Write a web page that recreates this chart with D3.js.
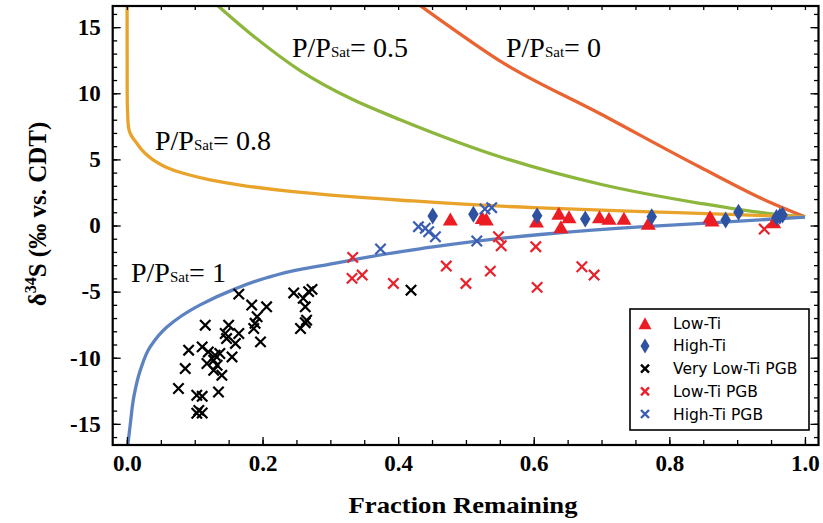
<!DOCTYPE html>
<html><head><meta charset="utf-8">
<script src="https://cdn.jsdelivr.net/npm/d3@7"></script>
<style>body{margin:0;background:#fff}</style>
</head><body>
<svg id="c" width="823" height="523"></svg>
<script>
// ---------- data ----------
const xTicksMajor = [0, 0.2, 0.4, 0.6, 0.8, 1.0];
const xTickLabels = ["0.0", "0.2", "0.4", "0.6", "0.8", "1.0"];
const yTicksMajor = [-15, -10, -5, 0, 5, 10, 15];
const yTickLabels = ["-15", "-10", "-5", "0", "5", "10", "15"];

// model curves [fraction remaining, d34S]
const curvePsat1 = [[0.0008,-16.8],[0.005,-15],[0.01,-13],[0.02,-10.9],[0.034,-9.2],[0.059,-7.67],[0.108,-6.0],[0.157,-4.85],[0.206,-3.95],[0.25,-3.37],[0.285,-3.05],[0.432,-1.76],[0.61,-0.68],[0.757,-0.11],[0.855,0.18],[1.0,0.63]];
const curvePsat08 = [[0.0002,16.8],[0.0004,10.0],[0.001,8.5],[0.0022,7.47],[0.0052,6.92],[0.0145,6.22],[0.0267,5.46],[0.039,4.95],[0.056,4.45],[0.083,3.95],[0.1226,3.45],[0.167,3.06],[0.245,2.56],[0.4,1.93],[0.6,1.35],[0.76,1.05],[0.855,0.9],[1.0,0.65]];
const curvePsat05 = [[0.13,16.8],[0.18,14.6],[0.256,11.7],[0.33,9.6],[0.403,8.0],[0.55,5.2],[0.70,3.1],[0.845,1.68],[0.944,0.92],[1.0,0.65]];
const curvePsat0 = [[0.428,16.8],[0.477,15.0],[0.55,12.45],[0.698,8.45],[0.845,4.42],[0.944,1.85],[1.0,0.65]];

const lowTi = [[0.477,0.49],[0.524,0.6],[0.53,0.5],[0.604,0.34],[0.637,0.92],[0.64,-0.09],[0.652,0.67],[0.697,0.67],[0.711,0.55],[0.733,0.55],[0.769,0.17],[0.86,0.67],[0.863,0.42],[0.954,0.29]];
const highTi = [[0.451,0.72],[0.511,0.85],[0.605,0.74],[0.676,0.5],[0.774,0.67],[0.883,0.42],[0.902,1.0],[0.958,0.6],[0.963,0.7],[0.967,0.8]];
const veryLowTiPGB = [[0.165,-5.19],[0.184,-6.02],[0.206,-6.15],[0.246,-5.1],[0.26,-5.5],[0.268,-5.0],[0.273,-4.83],[0.263,-6.15],[0.256,-7.79],[0.265,-7.16],[0.263,-7.35],[0.1155,-7.54],[0.15,-7.54],[0.192,-6.9],[0.189,-7.4],[0.187,-7.79],[0.145,-8.17],[0.165,-8.17],[0.147,-8.55],[0.197,-8.8],[0.16,-8.92],[0.111,-9.18],[0.091,-9.43],[0.12,-9.56],[0.13,-9.81],[0.137,-9.68],[0.155,-9.94],[0.128,-10.19],[0.118,-10.44],[0.133,-10.57],[0.086,-10.82],[0.128,-10.95],[0.14,-11.33],[0.076,-12.33],[0.135,-12.59],[0.103,-12.84],[0.111,-12.92],[0.106,-13.98],[0.111,-14.18],[0.103,-14.2],[0.419,-4.89]];
const lowTiPGB = [[0.333,-2.41],[0.332,-4.0],[0.347,-3.75],[0.393,-4.38],[0.471,-3.07],[0.5,-4.38],[0.536,-3.45],[0.548,-0.85],[0.552,-1.53],[0.603,-1.6],[0.605,-4.68],[0.671,-3.12],[0.689,-3.75],[0.94,-0.27]];
const highTiPGB = [[0.374,-1.78],[0.43,-0.09],[0.44,-0.21],[0.445,-0.47],[0.455,-0.85],[0.516,-1.17],[0.528,1.25],[0.538,1.35]];

const legendLabels = ["Low-Ti", "High-Ti", "Very Low-Ti PGB", "Low-Ti PGB", "High-Ti PGB"];

// ---------- drawing ----------
const svg = d3.select("#c");
const X0 = 112.7, X1 = 818.5, Y0 = 6, Y1 = 445;
const x = d3.scaleLinear().domain([-0.021, 1.02]).range([X0, X1]);
const y = d3.scaleLinear().domain([-16.6, 16.6]).range([Y1, Y0]);

const serif = "Liberation Serif, DejaVu Serif, serif";
const sans = "DejaVu Sans, sans-serif";

svg.append("defs").append("clipPath").attr("id","clip")
  .append("rect").attr("x",X0).attr("y",Y0).attr("width",X1-X0).attr("height",Y1-Y0);

const lineY = d3.line().x(d=>x(d[0])).y(d=>y(d[1])).curve(d3.curveMonotoneY);
const lineX = d3.line().x(d=>x(d[0])).y(d=>y(d[1])).curve(d3.curveMonotoneX);
const byY = a => a.slice().sort((p,q)=>p[1]-q[1]);
const gc = svg.append("g").attr("clip-path","url(#clip)");
gc.append("path").attr("d",lineX(curvePsat0)).attr("fill","none").attr("stroke","#ea6431").attr("stroke-width",3.3);
gc.append("path").attr("d",lineX(curvePsat05)).attr("fill","none").attr("stroke","#8cb63c").attr("stroke-width",3.3);
gc.append("path").attr("d",lineY(byY(curvePsat08))).attr("fill","none").attr("stroke","#e9a32a").attr("stroke-width",3.3);
gc.append("path").attr("d",lineY(byY(curvePsat1))).attr("fill","none").attr("stroke","#5d82c2").attr("stroke-width",3.3);

// axes (ticks inward)
const minorX = d3.range(0, 1.0001, 0.05).map(v=>+v.toFixed(2));
const minorY = d3.range(-16, 16.01, 1);
function styleAxis(g){ g.select(".domain").remove(); g.selectAll("line").attr("stroke","#000").attr("stroke-width",1.3); }

svg.append("g").attr("transform",`translate(0,${Y1})`)
  .call(d3.axisBottom(x).tickValues(minorX).tickSize(-5).tickFormat("")).call(styleAxis);
const gxb = svg.append("g").attr("transform",`translate(0,${Y1})`)
  .call(d3.axisBottom(x).tickValues(xTicksMajor).tickSize(-8).tickPadding(10)
    .tickFormat((d,i)=>xTickLabels[i])).call(styleAxis);
gxb.attr("font-family",null);
gxb.selectAll("text").style("font-family",serif).style("font-weight","bold").style("font-size","23px").attr("fill","#000");

svg.append("g").attr("transform",`translate(0,${Y0})`)
  .call(d3.axisTop(x).tickValues(minorX).tickSize(-4).tickFormat("")).call(styleAxis);

svg.append("g").attr("transform",`translate(${X0},0)`)
  .call(d3.axisLeft(y).tickValues(minorY).tickSize(-4.5).tickFormat("")).call(styleAxis);
const gyl = svg.append("g").attr("transform",`translate(${X0},0)`)
  .call(d3.axisLeft(y).tickValues(yTicksMajor).tickSize(-8).tickPadding(12)
    .tickFormat((d,i)=>yTickLabels[i])).call(styleAxis);
gyl.attr("font-family",null);
gyl.selectAll("text").style("font-family",serif).style("font-weight","bold").style("font-size","23px").attr("fill","#000");

svg.append("g").attr("transform",`translate(${X1},0)`)
  .call(d3.axisRight(y).tickValues(minorY).tickSize(-4.5).tickFormat("")).call(styleAxis);
svg.append("g").attr("transform",`translate(${X1},0)`)
  .call(d3.axisRight(y).tickValues(yTicksMajor).tickSize(-8).tickFormat("")).call(styleAxis);

// frame
svg.append("rect").attr("x",X0).attr("y",Y0).attr("width",X1-X0).attr("height",Y1-Y0)
  .attr("fill","none").attr("stroke","#000").attr("stroke-width",2.2);

// axis titles
svg.append("text").attr("x",463).attr("y",513).attr("text-anchor","middle")
  .style("font-family",serif).style("font-weight","bold").style("font-size","24px")
  .attr("textLength",229).attr("lengthAdjust","spacingAndGlyphs").text("Fraction Remaining");
const yl = svg.append("text").attr("transform","translate(46,214) rotate(-90)").attr("text-anchor","middle")
  .style("font-family",serif).style("font-weight","bold").style("font-size","25px");
yl.append("tspan").text("δ");
yl.append("tspan").style("font-size","16px").attr("dy",-10).text("34");
yl.append("tspan").attr("dy",10).text("S (‰ vs. CDT)");

// curve labels
function pLabel(px, py, val){
  const t = svg.append("text").attr("x",px).attr("y",py).style("font-family",serif).style("font-size","28px").attr("fill","#000");
  t.append("tspan").text("P/P");
  t.append("tspan").style("font-size","15px").text("Sat");
  t.append("tspan").text("= " + val);
}
pLabel(292, 57, "0.5");
pLabel(506, 57, "0");
pLabel(155, 150, "0.8");
pLabel(131, 282, "1");

// markers
const tri = (cx,cy,w=15,h=13)=>`M${cx},${cy-h/2}L${cx+w/2},${cy+h/2}L${cx-w/2},${cy+h/2}Z`;
const dia = (cx,cy,w=10.5,h=17)=>`M${cx},${cy-h/2}L${cx+w/2},${cy}L${cx},${cy+h/2}L${cx-w/2},${cy}Z`;
const crs = (cx,cy,r=5.2)=>`M${cx-r},${cy-r}L${cx+r},${cy+r}M${cx-r},${cy+r}L${cx+r},${cy-r}`;

const RED = "#ec1c24", BLUE = "#2f51a1", BLUEX = "#3a5db4";
const gp = svg.append("g");
gp.selectAll(".tri").data(lowTi).join("path").attr("d",d=>tri(x(d[0]),y(d[1]))).attr("fill",RED);
gp.selectAll(".dia").data(highTi).join("path").attr("d",d=>dia(x(d[0]),y(d[1]))).attr("fill",BLUE);
[[veryLowTiPGB,"#000"],[lowTiPGB,"#e8212b"],[highTiPGB,BLUEX]].forEach(([data,c])=>{
  gp.append("g").selectAll("path").data(data).join("path").attr("d",d=>crs(x(d[0]),y(d[1])))
    .attr("stroke",c).attr("stroke-width",2.2).attr("fill","none");
});

// legend
const lg = svg.append("g");
lg.append("rect").attr("x",630).attr("y",309).attr("width",179).attr("height",121)
  .attr("fill","#fff").attr("stroke","#000").attr("stroke-width",1.6);
const rowY = [323.3, 345.9, 368.6, 391.3, 414];
lg.append("path").attr("d",tri(645,rowY[0],13,12)).attr("fill",RED);
lg.append("path").attr("d",dia(645,rowY[1],9,15)).attr("fill",BLUE);
[["#000",2],["#e8212b",3],[BLUEX,4]].forEach(([c,i])=>{
  lg.append("path").attr("d",crs(645,rowY[i],4)).attr("stroke",c).attr("stroke-width",2.4).attr("fill","none");
});
lg.selectAll("text").data(legendLabels).join("text").attr("x",673).attr("y",(d,i)=>rowY[i]+5.5)
  .style("font-family",sans).style("font-size","15.5px").attr("fill","#000").text(d=>d);
</script>
</body></html>
